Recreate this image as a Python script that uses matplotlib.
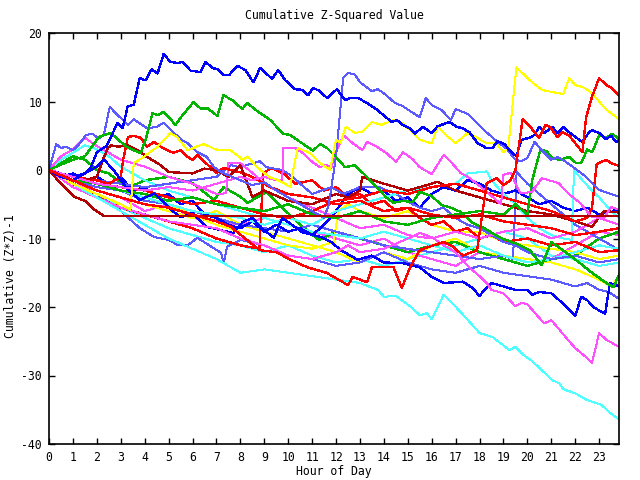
import matplotlib
matplotlib.use("Agg")
import matplotlib.pyplot as plt

# ---------------- data (hours, cumulative value) ----------------
blue_top_x = [0,0.5,1,1.5,1.75,2.0,2.4,2.875,3.08,3.29,3.54,3.79,4.04,4.29,4.54,4.79,5.08,5.375,5.58,5.92,6.33,6.54,6.83,7.04,7.29,7.54,7.875,8.21,8.54,8.83,9.33,9.58,9.875,10.29,10.58,10.83,11.04,11.33,11.625,12.04,12.375,12.58,12.92,13.29,13.71,14.125,14.33,14.54,14.79,15.08,15.29,15.625,16.0,16.25,16.75,17.04,17.29,17.58,17.92,18.29,18.54,18.75,19.04,19.25,19.54,19.75,20.08,20.29,20.5,20.71,21.04,21.25,21.5,21.75,22.29,22.58,22.71,23.0,23.29,23.5,23.71,23.83]
blue_top_y = [0,-1.0,-1.5,-0.5,0.4,2.6,3.5,6.9,6.1,9.3,9.5,13.4,13.1,14.7,14.1,16.9,15.8,15.6,15.8,14.5,14.3,15.8,14.9,14.7,13.9,13.9,15.2,14.6,12.8,14.9,13.3,14.6,13.1,11.8,11.7,10.9,12.0,11.5,10.5,11.8,10.2,10.5,10.5,9.8,8.8,7.6,7.0,7.3,6.6,6.1,5.3,6.3,5.4,6.4,7.0,6.3,6.1,5.5,3.9,3.2,3.2,4.2,3.8,2.9,2.0,4.4,4.7,5.1,6.3,5.4,6.3,5.4,6.3,5.5,4.1,5.5,5.8,5.4,4.5,5.0,4.1,4.3]

green_top_x = [0,0.5,1,1.5,2.08,2.29,2.58,2.875,3.2,3.5,3.83,4.04,4.33,4.54,4.79,5.29,5.58,6.04,6.33,6.625,7.04,7.29,7.67,8.08,8.29,8.625,8.96,9.25,9.79,10.08,10.5,11.04,11.33,11.625,12.04,12.375,12.79,13.29,13.7,14.1,14.4,14.8,15.2,15.5,16.0,16.4,16.8,17.2,17.7,18.2,18.8,19.5,20.1,20.6,21.0,21.6,22.2,22.7,23.3,23.6,23.83]
green_top_y = [0,0.8,1.5,2.0,4.8,5.1,5.4,4.5,3.5,2.9,2.5,4.4,8.3,8.0,8.5,6.6,8.0,9.9,9.0,9.0,7.9,10.9,10.2,8.9,9.8,8.8,8.0,7.3,5.3,5.1,4.1,2.8,3.8,3.2,1.75,0.4,0.7,-1.0,-2.5,-4.0,-4.8,-4.5,-4.7,-3.2,-3.8,-5.1,-5.5,-6.1,-7.7,-8.5,-9.8,-10.7,-11.7,-13.9,-10.5,-12.0,-13.6,-15.0,-16.5,-17.1,-15.3]

yellow_top_x = [0,1,2,3,3.4,3.5,3.54,4.0,4.54,5.08,5.35,5.8,6.46,7.04,7.58,8.1,8.3,8.7,9.2,9.6,10.1,10.15,10.4,10.9,11.33,11.75,12.0,12.2,12.4,12.8,13.1,13.5,13.9,14.4,14.8,15.3,15.5,16.0,16.25,16.6,17.0,17.5,17.9,18.3,18.7,19.0,19.2,19.54,20.1,20.6,21.0,21.5,21.75,22.0,22.4,22.7,23.3,23.83]
yellow_top_y = [0,-2.0,-3.5,-5.0,-5.8,-1.5,1.0,2.0,3.4,5.4,4.8,2.9,3.8,2.9,2.9,1.5,2.0,0.4,-1.0,-1.5,-2.5,-1.0,3.2,2.5,1.0,0.0,4.4,4.0,6.3,5.4,5.6,7.0,6.6,7.3,6.8,5.1,4.4,3.9,6.3,5.1,3.9,5.4,4.7,3.9,3.9,2.6,3.2,15.0,13.1,11.7,11.4,11.1,13.4,12.4,12.0,11.2,8.8,7.4]

red_top_x = [0,1,2,3,4,5,6,7,7.6,8.2,8.8,9.5,10.1,10.8,11.6,12.5,12.7,13.3,13.5,14.4,14.75,15.1,15.5,15.9,16.5,16.9,17.3,17.9,18.3,18.7,19.0,19.3,19.5,19.8,20.1,20.3,20.5,20.75,20.95,21.25,21.46,21.75,22.3,22.45,22.7,23.0,23.3,23.5,23.83]
red_top_y = [0,-1.5,-3.0,-4.0,-5.0,-5.5,-6.5,-7.5,-8.3,-10.0,-11.7,-12.0,-13.1,-14.2,-15.0,-16.8,-15.6,-16.4,-14.2,-14.2,-17.2,-14.2,-11.7,-11.2,-10.5,-11.2,-12.5,-11.7,-1.9,-1.2,-2.2,-1.5,0.0,7.4,6.4,5.5,4.7,6.6,6.3,4.8,5.5,5.0,2.6,7.6,10.7,13.4,12.4,12.0,10.9]

red_late_x = [0,1,2,3,4,5,6,7,8,9,10,11,12,13,14,15,16,17,18,19,20,21,22,22.5,22.7,22.9,23.3,23.5,23.83]
red_late_y = [0,-1.0,-2.0,-2.5,-3.0,-4.0,-5.0,-4.5,-5.5,-6.5,-7.0,-6.0,-4.5,-4.0,-3.0,-3.5,-2.5,-2.0,-3.0,-4.0,-5.0,-6.0,-7.5,-7.0,-5.5,0.9,1.5,1.0,0.6]

red_early_x = [0,1,2,2.5,3.0,3.1,3.3,3.54,3.83,4.1,4.4,4.75,5.2,5.5,5.8,6.0,6.2,6.5,6.75,7.0,7.3,7.8,8.0,8.5,9.25,10,11,12,13,14,15,16,17,18,19,20,21,22,23,23.83]
red_early_y = [0,-1.0,-1.5,-2.0,-1.0,1.5,4.8,5.0,4.7,3.4,4.1,3.2,2.5,2.9,1.9,1.5,2.2,1.2,0.4,-0.4,0.3,-0.2,-0.3,-1.0,-2.5,-3.5,-4.0,-5.0,-4.5,-6.0,-5.5,-6.5,-7.0,-6.5,-7.5,-8.0,-8.5,-9.5,-9.0,-8.5]

red_mid_x = [0,1,2,3,4,5,6,7,8,8.8,8.95,9.3,9.8,10.3,11,11.5,12,12.5,13,13.5,14,14.5,15,15.5,16,16.5,17,17.5,18,18.5,19,20,21,22,23,23.83]
red_mid_y = [0,-2.0,-4.0,-5.5,-6.5,-7.5,-8.5,-10.0,-11.0,-11.5,-0.5,0.3,-0.5,-2.0,-1.5,-3.0,-2.5,-4.0,-3.5,-5.0,-4.5,-6.0,-5.5,-7.0,-8.0,-7.5,-9.0,-8.5,-10.0,-9.5,-10.5,-10.0,-11.0,-10.5,-12.0,-11.7]

dred_flat_x = [0,0.5,1.04,1.5,1.9,2.3,23.83]
dred_flat_y = [0,-2.0,-3.9,-4.5,-5.8,-6.7,-6.7]

dred_x = [0,1,1.5,2.0,2.3,2.46,2.6,2.9,3.3,3.7,4.1,4.67,5.0,5.5,6.0,6.5,7.0,7.5,8.0,8.5,9,10,11,12,12.5,13,13.1,14,15,16,16.25,17,18,19,20,21,22,22.7,23.2,23.83]
dred_y = [0,-1.0,-1.5,-1.0,1.9,3.2,3.6,3.4,3.6,2.9,1.9,0.7,-0.3,-0.4,-0.5,0.2,0.0,-1.0,0.7,-3.9,-3.0,-4.5,-5.0,-3.5,-4.0,-3.0,-1.0,-2.0,-3.0,-2.0,-1.7,-3.0,-4.0,-5.0,-6.0,-6.5,-7.5,-8.3,-6.0,-6.2]

mag_top_x = [0,1,2,3,4,5,6,7,8,8.5,9,9.5,9.75,9.8,10.3,10.6,11.0,11.33,11.6,11.8,12.0,12.3,12.7,13.1,13.3,13.7,14.1,14.5,14.8,15.2,15.5,16.0,16.5,16.8,17.2,17.6,18.1,18.7,18.9,19.0,19.3,19.7,20.2,20.6,21.3,21.7,22.2,22.7,23.2,23.5,23.83]
mag_top_y = [0,-1.0,-2.0,-2.5,-3.0,-2.5,-3.0,-2.0,-1.0,-1.5,-1.0,-1.5,-1.5,3.2,3.2,2.5,1.2,0.4,0.8,0.3,2.6,5.1,3.9,2.9,4.1,3.4,2.5,1.2,2.6,1.6,0.4,-0.6,2.2,1.2,-0.4,-1.2,-2.6,-4.4,-5.0,-0.7,-0.4,-3.4,-3.2,-1.2,-1.9,-3.4,-4.8,-6.9,-7.0,-5.4,-5.8]

mag_low_x = [0,1,2,3,4,5,6,7,8,9,10,11,12,12.5,13,14,15,15.5,16,16.5,17,17.5,18,18.3,18.5,19.0,19.5,19.75,20.0,20.7,21.0,21.6,22.0,22.45,22.7,23.0,23.3,23.83]
mag_low_y = [0,-2.5,-4.0,-5.5,-6.5,-7.5,-8.0,-8.5,-10.0,-11.0,-12.5,-13.0,-12.0,-11.0,-12.0,-11.5,-10.0,-9.2,-9.8,-11.0,-12.0,-14.0,-15.5,-16.5,-17.5,-18.0,-19.9,-19.4,-19.6,-22.4,-21.9,-24.4,-26.0,-27.3,-28.2,-23.8,-24.8,-25.8]

mag_mid_x = [0,1,2,3,4,5,6,7,8,9,10,11,12,13,14,15,16,17,18,19,20,21,22,23,23.83]
mag_mid_y = [0,-2.0,-3.0,-4.0,-6.0,-5.0,-7.0,-7.5,-8.0,-7.0,-8.0,-9.0,-10.0,-11.0,-10.0,-12.0,-13.0,-14.0,-12.0,-13.0,-14.0,-13.0,-11.0,-9.0,-9.5]

mag_early_x = [0,0.5,1,1.5,2,2.5,3,3.5,4,5,6,7,7.4,7.5,8.0,8.5,9,10,11,12,13,14,15,16,17,18,19,20,21,22,23,23.83]
mag_early_y = [0,2.0,3.0,4.7,3.5,2.5,1.5,1.0,0.5,-1.0,-2.0,-3.5,-3.4,1.0,1.0,-0.4,-2.0,-4.0,-5.5,-7.0,-8.5,-8.0,-9.5,-10.0,-9.0,-10.0,-9.0,-8.5,-10.0,-9.0,-7.0,-8.0]

cyan_low_x = [0,1,2,3,4,5,6,7,8,9,10,11,12,13,13.75,14.0,14.5,15.1,15.5,15.8,16.0,16.5,17.2,18.0,18.55,19.25,19.5,19.8,20.2,21.05,21.33,21.5,22.0,22.5,23.1,23.4,23.75,23.83]
cyan_low_y = [0,-2.0,-4.0,-6.0,-8.0,-10.0,-11.5,-13.0,-15.0,-14.5,-15.0,-15.5,-16.0,-16.5,-17.5,-18.5,-18.4,-19.9,-21.2,-20.9,-21.8,-18.2,-20.7,-23.8,-24.4,-26.3,-25.8,-26.9,-27.9,-30.7,-31.1,-32.0,-32.6,-33.6,-34.3,-35.3,-36.2,-36.4]

cyan_a_x = [0,0.5,1,1.5,2,2.5,3,4,5,6,7,8,9,10,11,12,13,14,15,16,17,18,19,20,21,22,23,23.83]
cyan_a_y = [0,1.5,2.5,3.6,3.0,2.0,0.5,-1.5,-3.0,-4.0,-5.0,-6.0,-7.0,-8.0,-9.0,-9.5,-10.0,-9.0,-10.0,-11.0,-12.0,-11.0,-12.5,-13.5,-13.0,-12.0,-11.0,-11.5]

cyan_b_x = [0,1,2,3,4,5,6,7,8,9,10,11,12,13,14,15,16,17,17.5,18.3,18.5,19,19.5,20,20.5,21,21.5,21.85,21.95,22.3,22.7,23,23.5,23.83]
cyan_b_y = [0,-1.0,-2.0,-3.0,-4.0,-5.0,-6.0,-6.5,-7.0,-8.0,-7.0,-8.0,-6.0,-5.0,-4.0,-3.0,-2.5,-2.0,-0.5,-0.2,-1.5,-3.5,-5.0,-7.0,-8.5,-9.5,-10.0,-10.2,0.0,-1.5,-3.0,-4.0,-6.0,-7.0]

cyan_c_x = [0,1,2,3,4,5,6,7,8,9,10,11,12,13,14,15,16,17,18,19,20,21,22,23,23.83]
cyan_c_y = [0,-2.0,-3.5,-5.5,-7.0,-8.5,-9.5,-10.5,-11.0,-12.0,-11.0,-12.5,-13.5,-13.0,-14.0,-13.0,-12.0,-11.0,-10.0,-9.0,-10.0,-12.5,-13.0,-14.0,-13.5]

lblue_jump_x = [0,0.2,0.3,0.5,0.7,1.0,1.2,1.54,1.8,2.08,2.29,2.54,2.875,3.3,3.54,4.1,4.5,4.8,5.5,5.8,6.2,6.6,6.9,7.25,7.6,8.0,8.5,9,9.5,10,10.5,11,11.5,11.7,12.0,12.3,12.5,12.8,13.0,13.5,13.75,14.0,14.46,14.8,15.1,15.5,15.75,16.0,16.4,16.8,17.0,17.5,18.1,18.75,19.1,19.5,19.75,20.0,20.3,20.6,21.0,21.25,21.6,21.96,22.45,23.0,23.5,23.83]
lblue_jump_y = [0,2.5,3.8,3.2,3.4,2.9,3.5,5.1,5.3,4.6,5.1,9.2,8.0,6.6,7.4,6.1,6.3,6.9,4.5,3.9,2.6,1.9,0.4,-0.4,-0.9,-1.5,-2.2,-1.8,-3.0,-4.0,-5.0,-6.0,-7.0,-5.0,2.0,13.5,14.2,13.9,12.8,11.5,11.8,11.2,9.8,9.3,8.6,7.7,10.5,9.5,8.8,7.3,8.9,8.2,6.1,4.1,3.2,1.5,1.3,1.75,4.1,2.9,1.5,1.9,1.2,0.3,-1.0,-2.9,-3.5,-3.9]

lblue_low_x = [0,1,2,3,3.8,4.4,5.0,5.4,5.8,6.2,6.7,7.2,7.3,7.45,8.0,9,10,11,12,13,14,15,16,17,18,19,20,21,22,22.5,23,23.4,23.83]
lblue_low_y = [0,-2.0,-3.5,-6.0,-8.5,-9.8,-10.2,-11.0,-11.0,-9.9,-11.0,-12.1,-13.6,-11.2,-10.2,-11.0,-12.5,-13.0,-14.0,-13.5,-12.0,-13.5,-14.5,-15.0,-14.0,-15.0,-15.5,-16.0,-17.0,-16.5,-17.5,-17.8,-18.8]

lblue_late_x = [0,1,2,3,4,5,6,7,8,9,10,11,12,13,14,15,16,17,18,19,19.4,19.55,20,20.5,21,21.5,22,22.5,23,23.5,23.83]
lblue_late_y = [0,-1.5,-2.5,-3.0,-4.5,-5.0,-6.0,-7.0,-8.0,-8.5,-9.0,-8.0,-9.0,-10.0,-11.0,-11.5,-12.0,-12.5,-13.0,-12.5,-13.0,-0.3,-2.0,-3.5,-5.0,-6.5,-8.0,-9.0,-10.0,-11.0,-11.7]

lblue_mid_x = [0,1,2,3,4,5,6,7,7.6,8,8.8,9.1,9.75,10.2,10.5,11.0,11.8,12.3,13.0,13.8,14.5,15.2,15.5,16,16.5,17,17.5,18,18.5,19,19.5,20,21,22,23,23.83]
lblue_mid_y = [0,-1.0,-1.5,-2.0,-2.5,-2.0,-1.5,-1.0,0.7,0.4,1.3,0.4,0.0,-1.0,-2.0,-3.5,-2.5,-3.5,-2.5,-2.5,-3.5,-5.0,-5.5,-6.0,-5.5,-7.0,-8.0,-8.5,-9.5,-10.5,-11.0,-12.0,-13.0,-12.5,-13.5,-13.0]

blue_low_x = [0,0.5,1,1.5,2.0,2.3,2.7,3.3,3.8,4.4,5.1,5.5,6.0,6.6,7.2,7.7,8.1,8.5,8.9,9.4,9.75,10.6,11.4,11.8,12.2,12.9,13.5,14,14.8,15.5,16.0,16.5,17.3,17.7,18.0,18.2,18.5,19.0,19.5,20.0,20.2,20.5,21.0,21.33,21.6,22.0,22.25,22.5,22.8,23.25,23.45,23.83]
blue_low_y = [0,-0.5,-1.0,-0.5,0.5,1.5,0.0,-2.9,-4.4,-3.4,-5.8,-6.9,-6.3,-8.3,-8.8,-9.2,-7.6,-7.0,-8.5,-9.9,-7.0,-9.1,-9.8,-10.5,-11.7,-13.1,-12.5,-13.5,-13.6,-14.2,-15.6,-16.5,-16.3,-17.2,-18.4,-17.5,-16.5,-17.0,-17.5,-17.5,-18.2,-17.8,-18.0,-19.0,-19.9,-21.3,-18.5,-19.0,-20.1,-21.0,-16.5,-17.0]

blue_mid_x = [i * 0.5 for i in range(48)] + [23.83]
blue_mid_y = [0,-1.0,-0.5,-1.5,-1.0,-2.0,-1.0,-3.0,-2.5,-4.0,-3.5,-5.0,-4.5,-6.5,-7.0,-8.0,-8.5,-7.5,-9.0,-8.0,-9.0,-8.5,-9.5,-8.0,-6.0,-3.5,-2.5,-3.5,-3.0,-4.5,-4.0,-5.5,-3.5,-2.5,-3.0,-1.5,-2.0,-3.0,-3.5,-3.0,-4.0,-5.0,-4.5,-5.5,-6.0,-5.5,-6.5,-6.0,-5.8]

green_jump_x = [0,1,2,3,4,5,6,7,8,9,10,11,12,13,14,15,16,17,18,19,19.5,20.0,20.2,20.54,20.79,21.04,21.33,21.75,22.04,22.25,22.5,22.71,23.0,23.29,23.54,23.83]
green_jump_y = [0,-1.5,-2.0,-3.0,-3.5,-4.5,-4.0,-5.0,-5.5,-6.0,-5.0,-6.5,-7.0,-6.0,-7.5,-8.0,-7.0,-6.5,-6.0,-6.5,-5.0,-6.5,-1.5,2.9,2.8,1.75,1.5,1.9,1.0,1.0,3.0,2.6,5.1,4.7,5.3,4.5]

green_mid_x = [0,0.5,1,1.5,2,2.5,3,3.3,4,5,6,6.9,7.3,8,8.3,9.1,10.4,10.9,11.3,12,13,14,15,16,17,18,19,20,21,22,23,23.83]
green_mid_y = [0,1.0,2.0,1.5,0.0,-0.5,-1.9,-2.6,-1.5,-1.0,-1.9,-4.4,-2.5,-3.9,-4.8,-3.2,-7.7,-9.2,-10.2,-9.0,-10.0,-11.0,-12.0,-11.0,-10.5,-12.0,-13.0,-14.0,-13.0,-12.5,-10.0,-9.0]

yellow_low_x = [0,1,2,3,4,5,6,7,8,9,10,11,12,13,14,15,16,17,18,19,20,21,22,23,23.5,23.83]
yellow_low_y = [0,-1.5,-3.0,-4.0,-5.0,-6.0,-7.0,-6.0,-8.0,-9.0,-10.0,-11.0,-12.0,-13.5,-12.0,-13.0,-11.0,-10.0,-12.0,-12.5,-13.0,-13.5,-14.5,-16.0,-17.0,-15.5]

yellow_mid_x = [0,1,2,3,4,5,6,7,8,9,10,11,11.9,12.1,12.5,13,14,15,16,17,18,19,20,21,22,23,23.83]
yellow_mid_y = [0,-1.0,-2.0,-3.0,-4.0,-5.0,-6.5,-8.0,-9.0,-10.0,-11.0,-11.5,-10.5,-6.0,-5.0,-6.0,-7.0,-6.0,-8.0,-9.0,-9.0,-10.5,-11.0,-11.5,-12.0,-13.0,-12.5]

x_ticks = list(range(0, 24))
y_ticks = [-40, -30, -20, -10, 0, 10, 20]

BLUE = '#0000ff'
LBLUE = '#5a5aff'
GREEN = '#00b400'
RED = '#ff0000'
DRED = '#b00000'
YELLOW = '#ffff00'
MAGENTA = '#ff50ff'
CYAN = '#50ffff'

THICK = 0.95
THIN = 0.72

series = [
    (cyan_c_x, cyan_c_y, CYAN, THIN),
    (mag_mid_x, mag_mid_y, MAGENTA, THIN),
    (yellow_low_x, yellow_low_y, YELLOW, THIN),
    (lblue_low_x, lblue_low_y, LBLUE, THIN),
    (green_mid_x, green_mid_y, GREEN, THICK),
    (yellow_mid_x, yellow_mid_y, YELLOW, THIN),
    (lblue_late_x, lblue_late_y, LBLUE, THIN),
    (cyan_a_x, cyan_a_y, CYAN, THIN),
    (red_mid_x, red_mid_y, RED, THICK),
    (blue_mid_x, blue_mid_y, BLUE, THICK),
    (lblue_mid_x, lblue_mid_y, LBLUE, THIN),
    (cyan_b_x, cyan_b_y, CYAN, THIN),
    (mag_early_x, mag_early_y, MAGENTA, THIN),
    (red_early_x, red_early_y, RED, THICK),
    (dred_x, dred_y, DRED, THICK),
    (red_late_x, red_late_y, RED, THICK),
    (green_jump_x, green_jump_y, GREEN, THICK),
    (blue_low_x, blue_low_y, BLUE, THICK),
    (mag_low_x, mag_low_y, MAGENTA, THIN),
    (cyan_low_x, cyan_low_y, CYAN, THIN),
    (mag_top_x, mag_top_y, MAGENTA, THIN),
    (lblue_jump_x, lblue_jump_y, LBLUE, THIN),
    (green_top_x, green_top_y, GREEN, THICK),
    (yellow_top_x, yellow_top_y, YELLOW, THIN),
    (dred_flat_x, dred_flat_y, DRED, THICK),
    (blue_top_x, blue_top_y, BLUE, THICK),
    (red_top_x, red_top_y, RED, THICK),
]

FS = 8.3
plt.rcParams['font.family'] = ['DejaVu Sans Mono']
fig = plt.figure(figsize=(6.4, 4.8), dpi=100)
ax = fig.add_axes([49/640, 1 - 444/480, (619 - 49)/640, (444 - 33)/480])

for xs, ys, c, lw in series:
    ax.plot(xs, ys, color=c, lw=lw, antialiased=False)

ax.set_xlim(0, 23.83)
ax.set_ylim(-40, 20)
ax.set_xticks(x_ticks)
ax.set_xticklabels([str(t) for t in x_ticks])
ax.set_yticks(y_ticks)
ax.set_yticklabels([str(t) for t in y_ticks])
ax.tick_params(direction='in', length=4, width=1, top=True, right=True,
               labelsize=FS, pad=5, colors='black')
for s in ax.spines.values():
    s.set_linewidth(1.2)
    s.set_color('black')

fig.text(334/640, 1 - 16/480, 'Cumulative Z-Squared Value', ha='center', va='center', fontsize=FS)
fig.text(334/640, 1 - 471/480, 'Hour of Day', ha='center', va='center', fontsize=FS)
fig.text(11/640, 1 - 276/480, 'Cumulative (Z*Z)-1', ha='center', va='center', rotation=90, fontsize=FS)

fig.savefig('out.png', dpi=100)
